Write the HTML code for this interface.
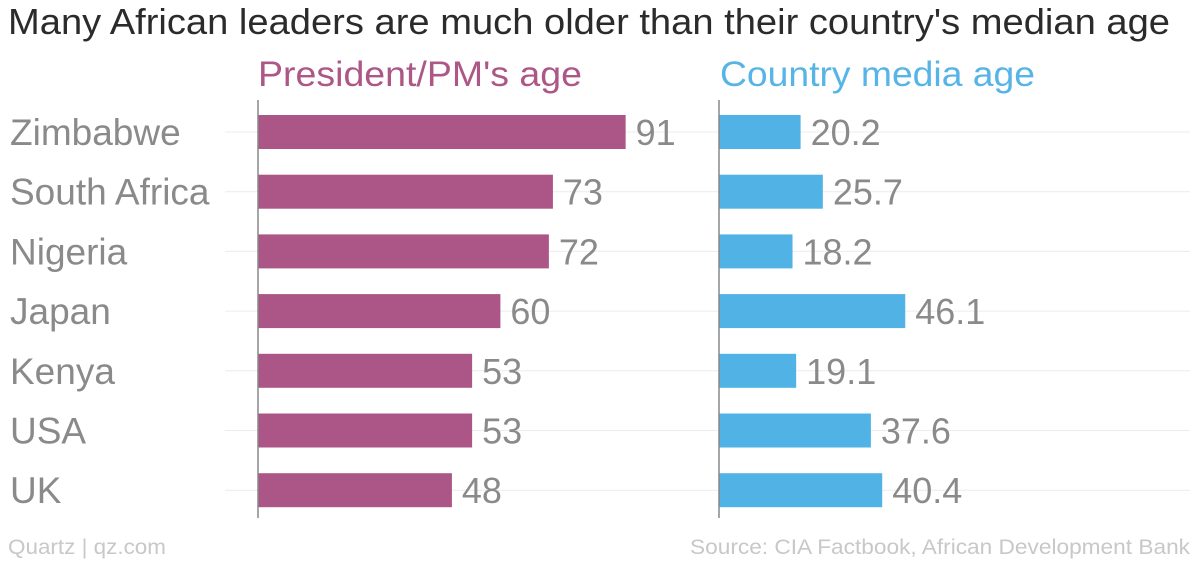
<!DOCTYPE html>
<html><head><meta charset="utf-8"><style>
body{margin:0;background:#fff;width:1200px;height:561px;overflow:hidden;font-family:"Liberation Sans",sans-serif}
</style></head><body>
<svg width="1200" height="561" id="svg" font-family="Liberation Sans, sans-serif">
<text x="8" y="34" font-size="36" fill="#2b2b2b" textLength="1162" lengthAdjust="spacingAndGlyphs">Many African leaders are much older than their country's median age</text>
<text x="258" y="86" font-size="35" fill="#ad5787" textLength="324" lengthAdjust="spacingAndGlyphs">President/PM's age</text>
<text x="720" y="86" font-size="35" fill="#56b4e6" textLength="315" lengthAdjust="spacingAndGlyphs">Country media age</text>
<text x="8" y="554" font-size="21" fill="#c8c8c8" textLength="158" lengthAdjust="spacingAndGlyphs">Quartz | qz.com</text>
<text x="690" y="554" font-size="21" fill="#c8c8c8" textLength="500" lengthAdjust="spacingAndGlyphs">Source: CIA Factbook, African Development Bank</text>
<g id="g"></g>
</svg>
<script>
const countries=["Zimbabwe","South Africa","Nigeria","Japan","Kenya","USA","UK"];
const leaderAge=[91,73,72,60,53,53,48];
const medianAge=[20.2,25.7,18.2,46.1,19.1,37.6,40.4];
const medianLabels=["20.2","25.7","18.2","46.1","19.1","37.6","40.4"];
const NS="http://www.w3.org/2000/svg";
const g=document.getElementById('g');
const k=4.04;
const xL=v=>258+v*k, xR=v=>719+v*k;
const yc=i=>132+i*59.7;
function mk(t,a){const e=document.createElementNS(NS,t);for(const n in a)e.setAttribute(n,a[n]);g.appendChild(e);return e;}
countries.forEach((c,i)=>{
  const y=yc(i);
  const gl=mk('line',{x1:225,x2:1190,y1:y,y2:y,stroke:'#ececec','stroke-width':1});
  
  
  const lb=mk('text',{x:10,y:y+13,'font-size':37,fill:'#8a8a8a'});lb.textContent=c;
  
  
  const b1=mk('rect',{x:258,y:y-17,width:xL(leaderAge[i])-258,height:34,fill:'#ab5686'});
  
  
  const t1=mk('text',{x:xL(leaderAge[i])+10,y:y+13,'font-size':36,fill:'#8a8a8a'});t1.textContent=leaderAge[i];
  
  
  const b2=mk('rect',{x:719,y:y-17,width:xR(medianAge[i])-719,height:34,fill:'#51b3e5'});
  
  
  const t2=mk('text',{x:xR(medianAge[i])+10,y:y+13,'font-size':36,fill:'#8a8a8a'});t2.textContent=medianLabels[i];
  
  
});
const a1=mk('line',{x1:258,x2:258,y1:100,y2:518,stroke:'#888','stroke-width':1.5});


const a2=mk('line',{x1:719,x2:719,y1:100,y2:518,stroke:'#888','stroke-width':1.5});


</script>
</body></html>
